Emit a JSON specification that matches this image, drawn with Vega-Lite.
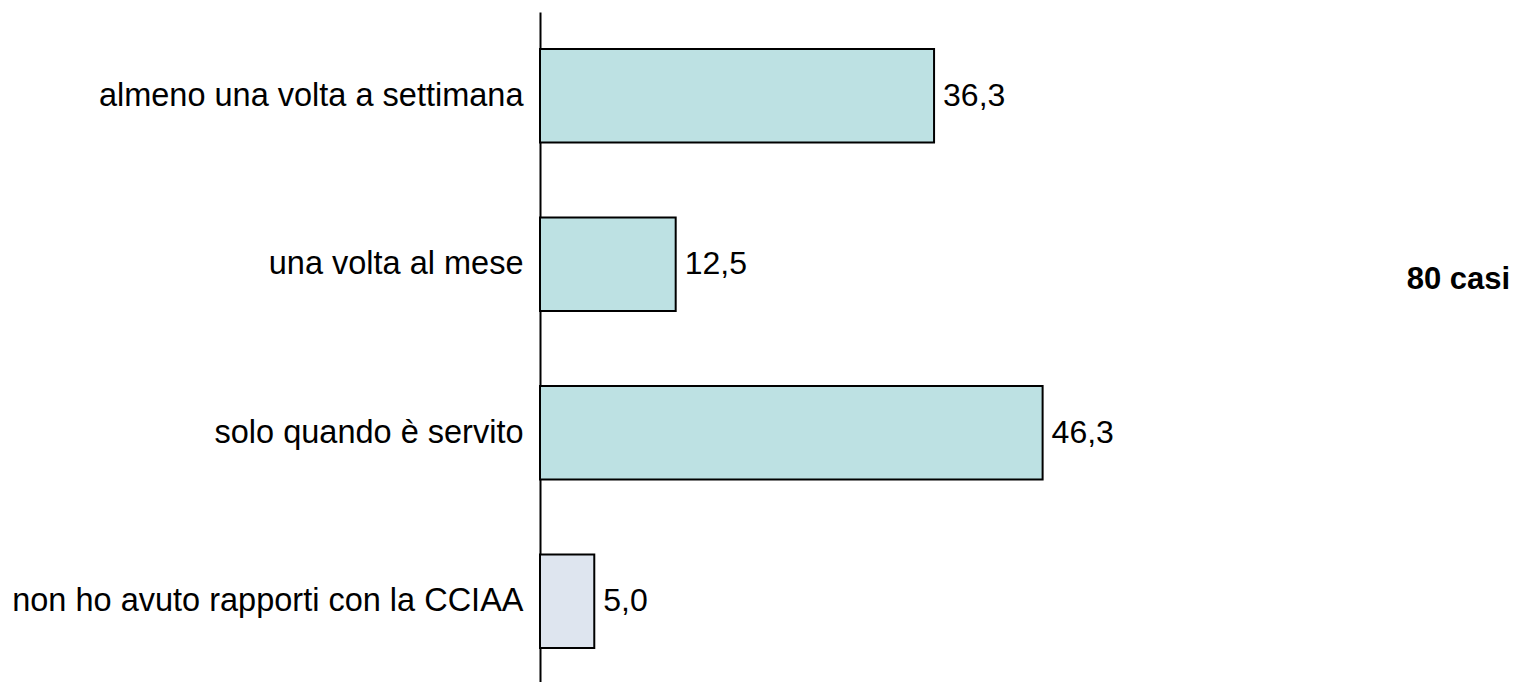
{
  "$schema": "https://vega.github.io/schema/vega-lite/v6.json",
  "width": 977,
  "height": 673,
  "autosize": {"type": "none"},
  "padding": {"left": 540, "top": 12, "right": 0, "bottom": 0},
  "background": "white",
  "config": {
    "view": {"stroke": null},
    "font": "Liberation Sans",
    "locale": {"number": {"decimal": ",", "thousands": ".", "grouping": [3], "currency": ["", " €"]}}
  },
  "layer": [
    {
      "data": {
        "values": [
          {"categoria": "almeno una volta a settimana", "valore": 36.3},
          {"categoria": "una volta al mese", "valore": 12.5},
          {"categoria": "solo quando è servito", "valore": 46.3},
          {"categoria": "non ho avuto rapporti con la CCIAA", "valore": 5.0}
        ]
      },
      "encoding": {
        "y": {
          "field": "categoria",
          "type": "nominal",
          "sort": null,
          "scale": {"paddingInner": 0.445, "paddingOuter": 0.22},
          "axis": {
            "title": null,
            "ticks": false,
            "grid": false,
            "domain": true,
            "domainColor": "black",
            "domainWidth": 2,
            "labelFontSize": 32.5,
            "labelColor": "black",
            "labelFont": "Liberation Sans",
            "labelPadding": 17,
            "labelLimit": 1000
          }
        },
        "x": {
          "field": "valore",
          "type": "quantitative",
          "scale": {"domain": [0, 90], "nice": false},
          "axis": null
        }
      },
      "layer": [
        {
          "mark": {"type": "bar", "stroke": "black", "strokeWidth": 2},
          "encoding": {
            "color": {
              "condition": {"test": "datum.categoria === 'non ho avuto rapporti con la CCIAA'", "value": "#DEE5EF"},
              "value": "#BDE1E3"
            }
          }
        },
        {
          "mark": {"type": "text", "align": "left", "baseline": "middle", "dx": 9, "fontSize": 32, "color": "black"},
          "encoding": {
            "text": {"field": "valore", "type": "quantitative", "format": ".1f"}
          }
        }
      ]
    },
    {
      "data": {"values": [{"nota": "80 casi"}]},
      "mark": {"type": "text", "align": "center", "baseline": "middle", "dy": 16, "fontSize": 31, "fontWeight": "bold", "color": "black"},
      "encoding": {
        "text": {"field": "nota", "type": "nominal"},
        "x": {"datum": 84.6, "type": "quantitative"},
        "y": {"datum": "una volta al mese", "type": "nominal"}
      }
    }
  ]
}
